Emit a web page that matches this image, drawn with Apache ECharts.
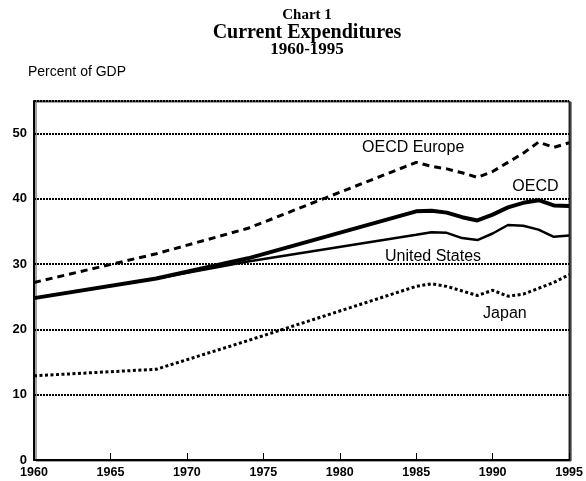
<!DOCTYPE html>
<html>
<head>
<meta charset="utf-8">
<title>Current Expenditures</title>
<script src="https://cdn.jsdelivr.net/npm/echarts@6/dist/echarts.min.js"></script>
<style>
  html, body { margin: 0; padding: 0; background: #fff; }
  #chart { width: 586px; height: 481px; }
</style>
</head>
<body>
<div id="chart"></div>
<script>
// percent of GDP
const years = [1960, 1968, 1974, 1985, 1986, 1987, 1988, 1989, 1990, 1991, 1992, 1993, 1994, 1995]
const oecdEurope = [27.2, 31.6, 35.5, 45.6, 45.0, 44.6, 44.0, 43.3, 44.2, 45.6, 47.0, 48.7, 47.9, 48.6]
const oecd = [24.8, 27.8, 30.9, 38.1, 38.2, 37.9, 37.2, 36.7, 37.6, 38.7, 39.4, 39.8, 39.0, 38.9]
const unitedStates = [24.8, 27.8, 30.4, 34.5, 34.9, 34.8, 34.0, 33.7, 34.7, 36.0, 35.9, 35.3, 34.2, 34.4]
const japan = [12.9, 13.9, 18.3, 26.6, 27.0, 26.6, 25.9, 25.2, 26.0, 25.1, 25.4, 26.3, 27.2, 28.4]

const yearTicks = [1960, 1965, 1970, 1975, 1980, 1985, 1990, 1995]
const valueTicks = [0, 10, 20, 30, 40, 50]

const pairs = arr => years.map((y, i) => [y, arr[i]])

const labelFont = { fontFamily: 'Liberation Sans', fontSize: 16, color: '#000' }

function lineSeries(name, arr, width, type, labelAt) {
  return {
    name: name,
    type: 'line',
    data: pairs(arr),
    symbol: 'none',
    smooth: false,
    lineStyle: { color: '#000', width: width, type: type, cap: 'butt' },
    animation: false,
    markPoint: {
      symbol: 'circle',
      symbolSize: 1,
      itemStyle: { color: 'transparent' },
      label: Object.assign({ show: true, position: 'inside', formatter: name }, labelFont),
      data: [{ coord: labelAt }]
    }
  }
}

const chart = echarts.init(document.getElementById('chart'))

chart.setOption({
  backgroundColor: '#fff',
  animation: false,
  graphic: [
    { type: 'text', x: 307, y: 15, style: { text: 'Chart 1', font: 'bold 15px "Liberation Serif"', fill: '#000', align: 'center', verticalAlign: 'middle' } },
    { type: 'text', x: 307, y: 33, style: { text: 'Current Expenditures', font: 'bold 20px "Liberation Serif"', fill: '#000', align: 'center', verticalAlign: 'middle' } },
    { type: 'text', x: 307, y: 50, style: { text: '1960-1995', font: 'bold 17px "Liberation Serif"', fill: '#000', align: 'center', verticalAlign: 'middle' } },
    { type: 'text', x: 28, y: 72, style: { text: 'Percent of GDP', font: '14px "Liberation Sans"', fill: '#000', align: 'left', verticalAlign: 'middle' } }
  ],
  grid: {
    left: 34,
    right: 12,
    top: 101,
    bottom: 21,
    show: true,
    backgroundColor: '#fff',
    borderColor: '#000',
    borderWidth: 1,
    shadowColor: '#444',
    shadowOffsetX: 2,
    shadowOffsetY: 1,
    shadowBlur: 0
  },
  xAxis: {
    type: 'value',
    min: yearTicks[0],
    max: yearTicks[yearTicks.length - 1],
    interval: 5,
    axisLine: { lineStyle: { color: '#000', width: 2 } },
    axisTick: { inside: true, length: 7, lineStyle: { color: '#000', width: 1 } },
    axisLabel: {
      margin: 6,
      color: '#000',
      fontFamily: 'Liberation Sans',
      fontWeight: 'bold',
      fontSize: 12.5,
      formatter: v => String(v)
    },
    splitLine: { show: false }
  },
  yAxis: {
    type: 'value',
    min: 0,
    max: 55,
    interval: 10,
    axisLine: { show: true, lineStyle: { color: '#000', width: 2 } },
    axisTick: { show: false },
    axisLabel: {
      margin: 7,
      color: '#000',
      fontFamily: 'Liberation Sans',
      fontWeight: 'bold',
      fontSize: 13,
      showMaxLabel: false,
      formatter: v => valueTicks.indexOf(v) >= 0 ? String(v) : ''
    },
    splitLine: { show: true, lineStyle: { color: '#000', width: 2, type: [2, 1] } }
  },
  series: [
    lineSeries('OECD Europe', oecdEurope, 3, [7, 5], [1984.8, 47.9]),
    lineSeries('OECD', oecd, 4, 'solid', [1992.8, 41.9]),
    lineSeries('United States', unitedStates, 2.5, 'solid', [1986.1, 31.2]),
    lineSeries('Japan', japan, 3, [3, 2.5], [1990.8, 22.5])
  ]
})
</script>
</body>
</html>
